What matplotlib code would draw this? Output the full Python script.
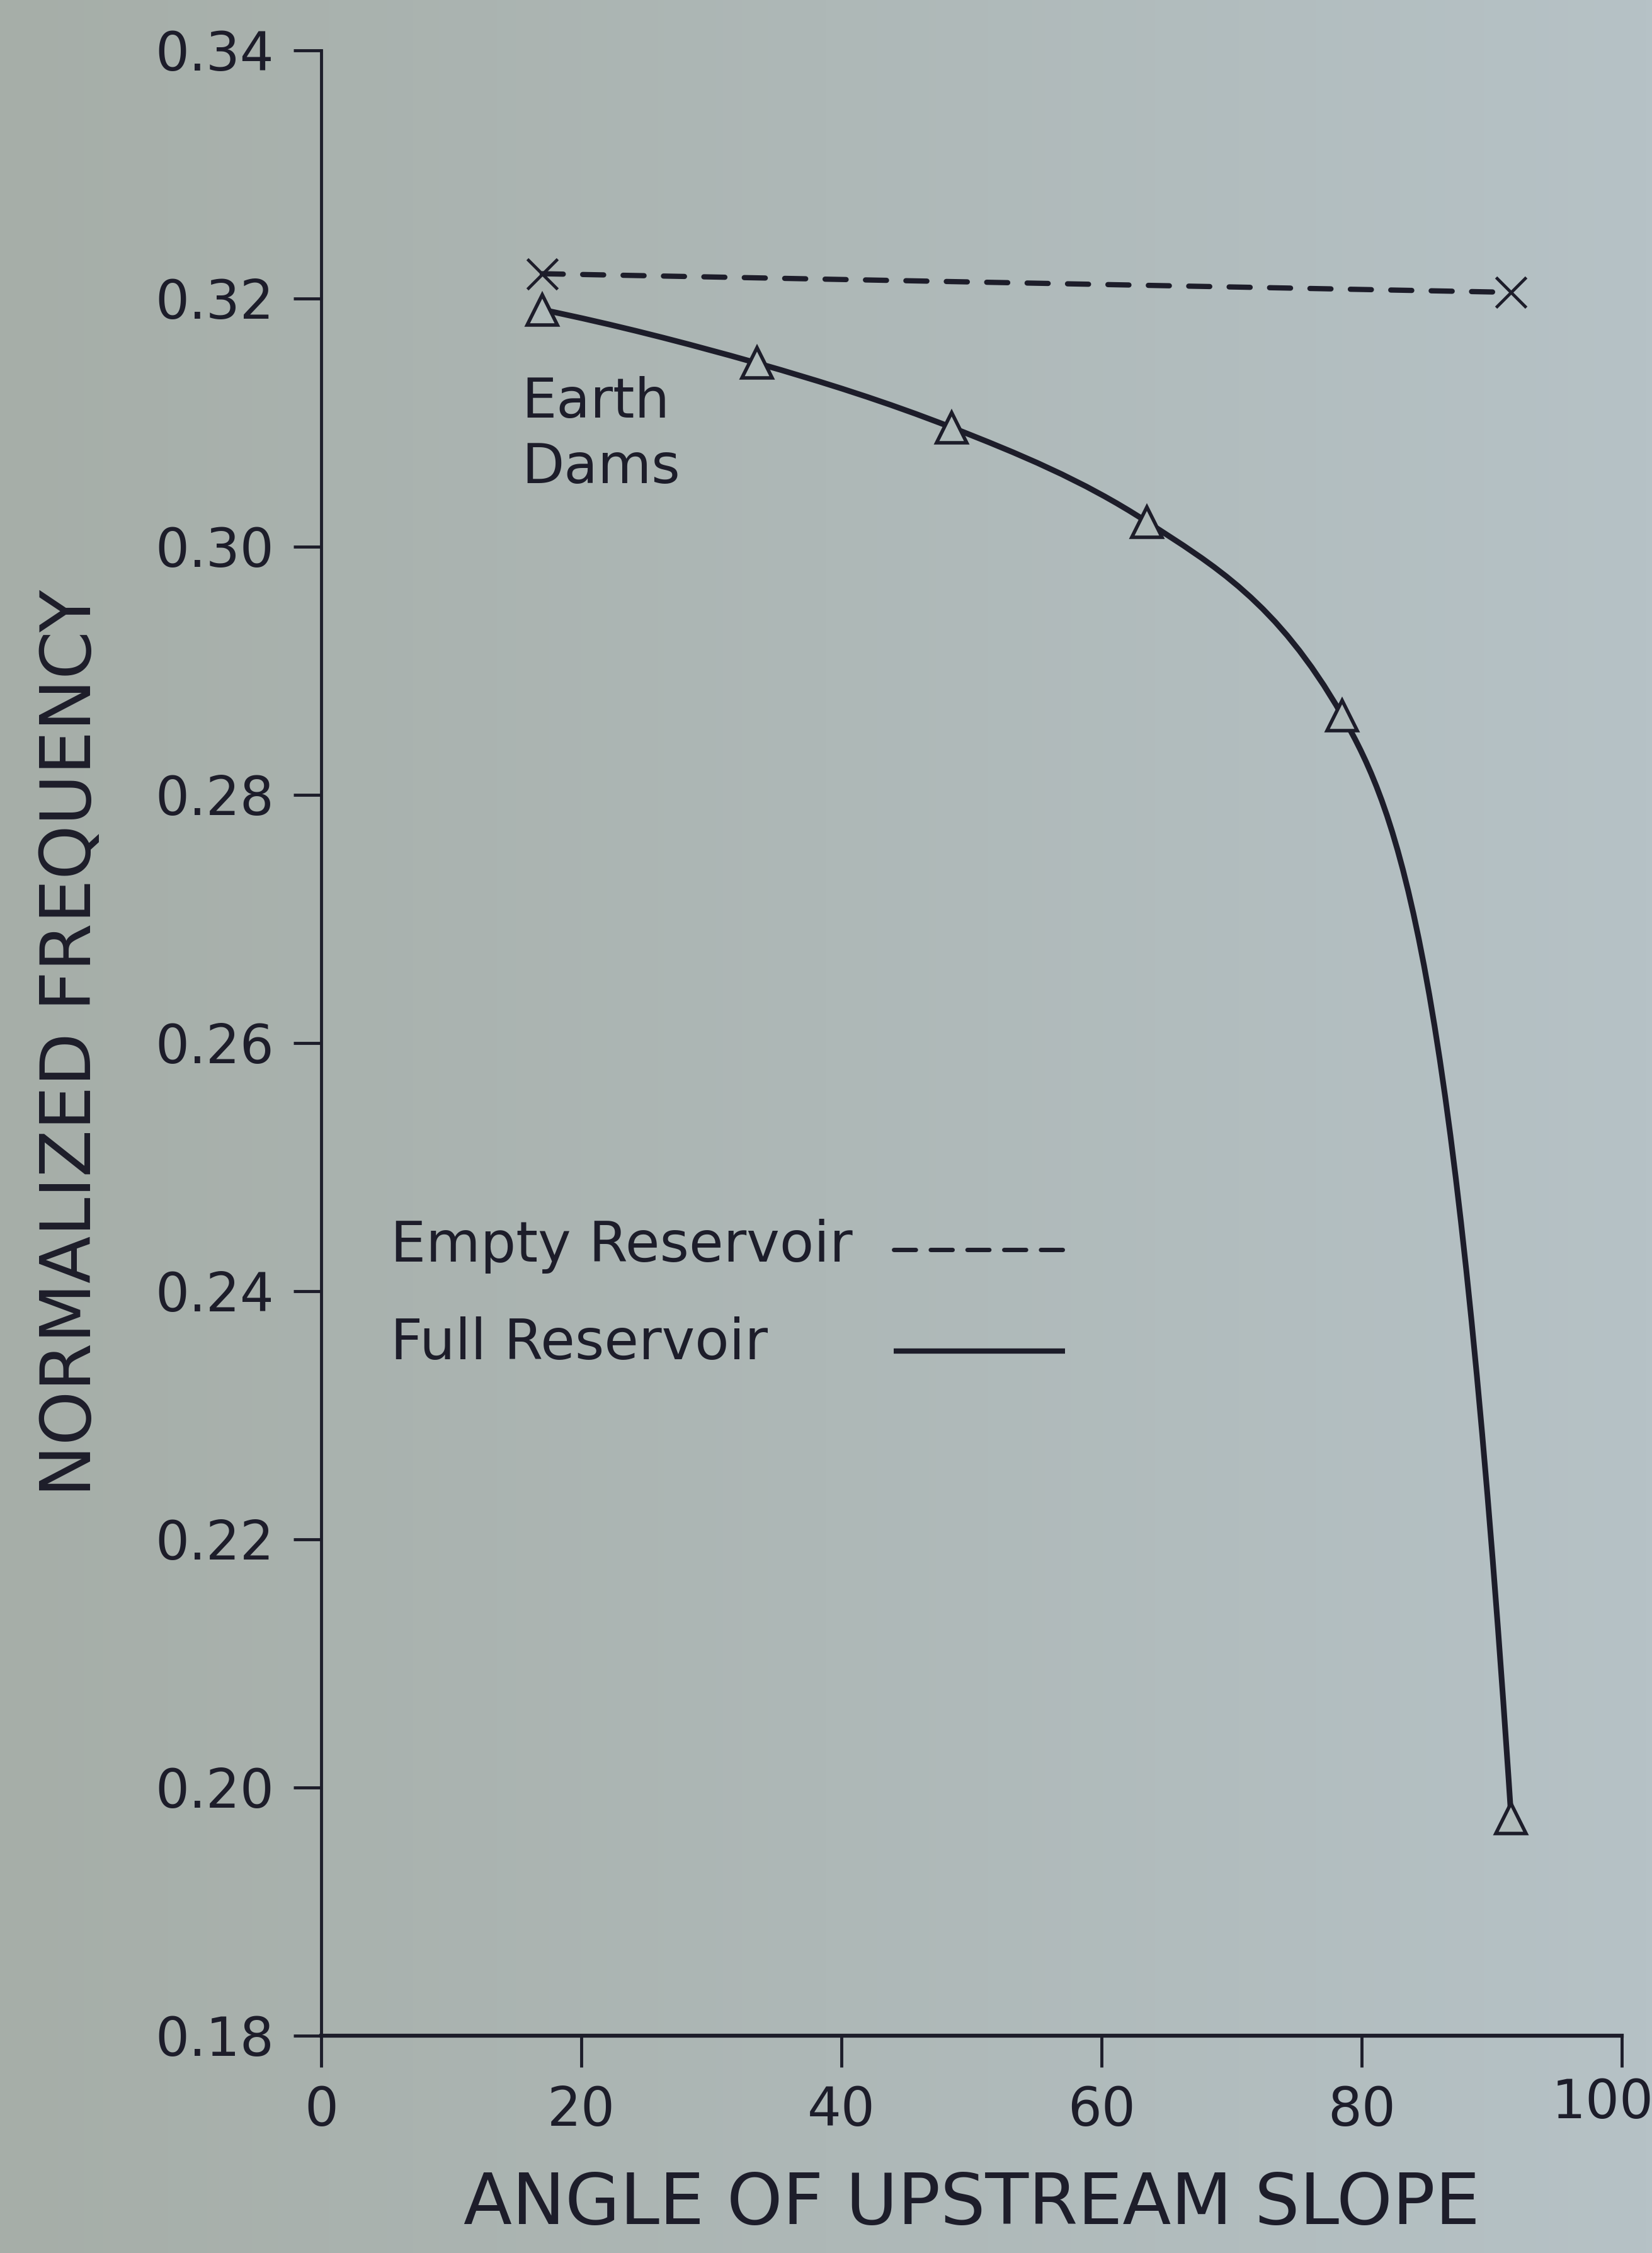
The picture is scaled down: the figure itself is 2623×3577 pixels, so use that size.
import numpy as np
import matplotlib
matplotlib.use("Agg")
import matplotlib.pyplot as plt
from matplotlib.path import Path
from matplotlib.patches import PathPatch
from matplotlib.transforms import ScaledTranslation

# ---------------- data ----------------
angle_full = [17, 33.5, 48.5, 63.5, 78.5, 91.5]
freq_full = [0.3191, 0.3148, 0.3096, 0.3020, 0.2864, 0.1975]
angle_empty = [17, 91.5]
freq_empty = [0.3220, 0.3205]
x_ticks = [0, 20, 40, 60, 80, 100]
x_tick_labels = ["0", "20", "40", "60", "80", "100"]
y_ticks = [0.18, 0.20, 0.22, 0.24, 0.26, 0.28, 0.30, 0.32, 0.34]
y_tick_labels = ["0.18", "0.20", "0.22", "0.24", "0.26", "0.28", "0.30", "0.32", "0.34"]

INK = "#1d1d2a"
END_TANGENT_SCALE = 2.35   # drawing style: how steeply the hand-drawn curve meets its last point
plt.rcParams["font.family"] = ["DejaVu Sans"]

fig = plt.figure(figsize=(26.23, 35.77), dpi=100)
fig.patch.set_facecolor("#aeb8b6")

# paper background (slight left-to-right tint change of the photographed page)
bg = fig.add_axes([0, 0, 1, 1], zorder=-10)
left_c = np.array([166, 174, 168]) / 255.0
right_c = np.array([182, 194, 198]) / 255.0
t = np.linspace(0, 1, 256)[None, :, None]
grad = left_c[None, None, :] * (1 - t) + right_c[None, None, :] * t
grad = np.repeat(grad, 2, axis=0)
bg.imshow(grad, aspect="auto", extent=[0, 1, 0, 1])
bg.set_axis_off()

ax = fig.add_axes([0.1944, 0.09645, 0.7873, 0.88119])
ax.patch.set_alpha(0)
ax.set_xlim(0, 100)
ax.set_ylim(0.18, 0.34)

# ---------------- smooth full-reservoir curve (cubic Bezier through the points) --------
xf = np.array(angle_full, dtype=float)
yf = np.array(freq_full, dtype=float)
h = np.diff(xf)
delta = np.diff(yf) / h
n = len(xf)
d = np.zeros(n)
for k in range(1, n - 1):
    if delta[k - 1] * delta[k] > 0:
        w1 = 2 * h[k] + h[k - 1]
        w2 = h[k] + 2 * h[k - 1]
        d[k] = (w1 + w2) / (w1 / delta[k - 1] + w2 / delta[k])
d[0] = ((2 * h[0] + h[1]) * delta[0] - h[0] * delta[1]) / (h[0] + h[1])
d[-1] = END_TANGENT_SCALE * delta[-1]

verts = [(xf[0], yf[0])]
codes = [Path.MOVETO]
for i in range(n - 1):
    verts += [(xf[i] + h[i] / 3, yf[i] + d[i] * h[i] / 3),
              (xf[i + 1] - h[i] / 3, yf[i + 1] - d[i + 1] * h[i] / 3),
              (xf[i + 1], yf[i + 1])]
    codes += [Path.CURVE4] * 3
ax.add_patch(PathPatch(Path(verts, codes), fill=False, edgecolor=INK, lw=6.5,
                       transform=ax.transData, zorder=3, capstyle="round"))
ax.plot(angle_full, freq_full, linestyle="none", marker="^", ms=34,
        mfc="#b0bbba", mec=INK, mew=4, zorder=4, clip_on=False)

# ---------------- empty reservoir ----------------
ax.plot(angle_empty, freq_empty, color=INK, lw=6, linestyle=(0, (4.0, 3.7)),
        zorder=3, clip_on=False, dash_capstyle="round")
ax.plot(angle_empty, freq_empty, linestyle="none", marker="x", ms=34,
        mec=INK, mew=3.5, zorder=4, clip_on=False)

# ---------------- axes styling ----------------
for s in ["top", "right"]:
    ax.spines[s].set_visible(False)
for s in ["left", "bottom"]:
    ax.spines[s].set_color(INK)
ax.spines["left"].set_linewidth(3.5)
ax.spines["bottom"].set_linewidth(4.5)

ax.set_xticks(x_ticks)
ax.set_xticklabels(x_tick_labels)
ax.set_yticks(y_ticks)
ax.set_yticklabels(y_tick_labels)
ax.tick_params(axis="x", direction="out", length=36, width=3.5, color=INK,
               labelsize=61, labelcolor=INK, pad=20)
ax.tick_params(axis="y", direction="out", length=32, width=3.5, color=INK,
               labelsize=61, labelcolor=INK, pad=22)

# keep the last x tick label inside the page
lab = ax.get_xticklabels()[-1]
lab.set_transform(lab.get_transform() + ScaledTranslation(-0.30, 0.12, fig.dpi_scale_trans))

ax.set_xlabel("ANGLE OF UPSTREAM SLOPE", fontsize=81, color=INK, va="top")
ax.xaxis.set_label_coords(0.5, -0.068)
ax.set_ylabel("NORMALIZED FREQUENCY", fontsize=79, color=INK)
ax.yaxis.set_label_coords(-0.166, 0.5)

# annotation
ax.text(0.154, 0.836, "Earth\nDams", transform=ax.transAxes, fontsize=63,
        color=INK, ha="left", va="top", linespacing=1.3)

# legend (labels left-aligned, line samples to their right)
ax.text(0.0533, 0.390, "Empty Reservoir", transform=ax.transAxes, fontsize=64,
        color=INK, ha="left", va="baseline")
ax.text(0.0533, 0.3407, "Full Reservoir", transform=ax.transAxes, fontsize=64,
        color=INK, ha="left", va="baseline")
ax.plot([0.440, 0.572], [0.396, 0.396], transform=ax.transAxes, color=INK, lw=5,
        linestyle=(0, (5.0, 3.4)), dash_capstyle="round")
ax.plot([0.440, 0.572], [0.345, 0.345], transform=ax.transAxes, color=INK, lw=6,
        solid_capstyle="butt")

fig.savefig("out.png", dpi=100, facecolor=fig.get_facecolor())
